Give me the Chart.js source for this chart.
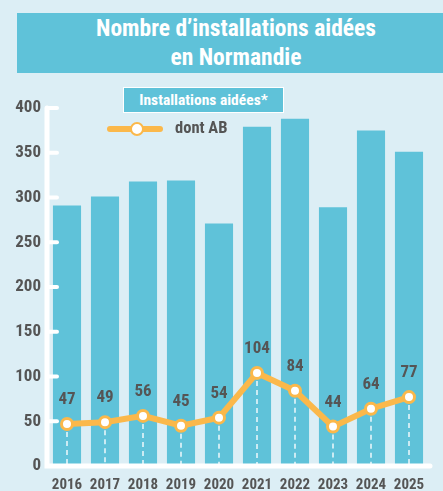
<!DOCTYPE html>
<html>
<head>
<meta charset="utf-8">
<script src="https://cdn.jsdelivr.net/npm/chart.js@4.4.1/dist/chart.umd.min.js"></script>
<style>
  html, body { margin:0; padding:0; background:#DCEEF5; }
  #wrap { position:relative; width:443px; height:491px; overflow:hidden; background:#DCEEF5; }
  #c { position:absolute; left:0; top:0; }
  .f { font-family:"Roboto Condensed","Roboto",sans-serif; font-stretch:condensed; font-weight:bold; white-space:nowrap; }
  #title { position:absolute; left:17px; top:13px; width:426px; height:60px; background:#5FC2D9;
    color:#fff; font-size:23.5px; line-height:29px; text-align:center; box-sizing:border-box; padding-top:1px; padding-left:12px; }
  #legbox { position:absolute; left:123px; top:87px; width:161px; height:26px; background:#5FC2D9;
    border:1px solid #fff; box-sizing:border-box; color:#fff; font-size:15.5px; line-height:24px; text-align:center; }
  #legline { position:absolute; left:107px; top:126px; width:56px; height:6px; background:#FBB84A; border-radius:3px; }
  #legdot { position:absolute; left:130px; top:122px; width:10px; height:10px; background:#fff; border:2.5px solid #FBB84A; border-radius:50%; }
  #legtxt { position:absolute; left:175px; top:118px; color:#555; font-size:16.5px; line-height:20px; }
</style>
</head>
<body>
<div id="wrap">
  <canvas id="c" width="443" height="491"></canvas>
  <div id="title" class="f">Nombre d’installations aidées<br>en Normandie</div>
  <div id="legbox" class="f">Installations aidées*</div>
  <div id="legline"></div>
  <div id="legdot"></div>
  <div id="legtxt" class="f">dont AB</div>
</div>
<script>
const years = ["2016","2017","2018","2019","2020","2021","2022","2023","2024","2025"];
const installationsAidees = [291, 301, 318, 319, 271, 379, 388, 289, 375, 351];
const dontAB = [47, 49, 56, 45, 54, 104, 84, 44, 64, 77];
const yTicks = [0, 50, 100, 150, 200, 250, 300, 350, 400];

const FONT = '"Roboto Condensed","Roboto",sans-serif';
const GREY = '#555';
const BLUE = '#5FC2D9';
const ORANGE = '#FBB84A';

const decor = {
  id: 'decor',
  afterDatasetDraw(chart, args) {
    const ctx = chart.ctx;
    const y = chart.scales.y;
    if (args.index === 0) {
      const meta = chart.getDatasetMeta(1);
      ctx.save();
      ctx.strokeStyle = 'rgba(255,255,255,0.9)';
      ctx.lineWidth = 1.5;
      ctx.setLineDash([5, 4]);
      meta.data.forEach(p => {
        ctx.beginPath();
        ctx.moveTo(p.x, p.y + 8);
        ctx.lineTo(p.x, y.getPixelForValue(0));
        ctx.stroke();
      });
      ctx.restore();
    }
  },
  afterDatasetsDraw(chart) {
    const ctx = chart.ctx;
    const y = chart.scales.y;
    const area = chart.chartArea;
    ctx.save();
    ctx.strokeStyle = '#fff';
    ctx.lineCap = 'round';
    ctx.lineWidth = 4;
    yTicks.forEach(v => {
      if (v === 0) return;
      const py = y.getPixelForValue(v);
      ctx.beginPath();
      ctx.moveTo(area.left - 1, py);
      ctx.lineTo(area.left + 9, py);
      ctx.stroke();
    });
    ctx.lineWidth = 5;
    ctx.beginPath();
    ctx.moveTo(area.left - 1, y.getPixelForValue(400));
    ctx.lineTo(area.left - 1, y.getPixelForValue(0));
    ctx.lineTo(area.right + 2, y.getPixelForValue(0));
    ctx.stroke();
    const meta = chart.getDatasetMeta(1);
    ctx.fillStyle = GREY;
    ctx.font = 'bold 17px ' + FONT;
    ctx.textAlign = 'center';
    ctx.textBaseline = 'middle';
    meta.data.forEach((p, i) => {
      ctx.fillText(String(dontAB[i]), p.x, p.y - 24);
    });
    ctx.restore();
  }
};

new Chart(document.getElementById('c'), {
  data: {
    labels: years,
    datasets: [
      { type: 'bar', data: installationsAidees, backgroundColor: BLUE, borderWidth: 0,
        barPercentage: 0.74, categoryPercentage: 1.0, order: 2 },
      { type: 'line', data: dontAB, borderColor: ORANGE, borderWidth: 6, tension: 0,
        pointRadius: 5.5, pointBorderWidth: 3, pointBackgroundColor: '#fff', pointBorderColor: ORANGE,
        order: 1 }
    ]
  },
  options: {
    responsive: false,
    animation: false,
    events: [],
    layout: { padding: { top: 108, right: 15, left: 0, bottom: 0 } },
    plugins: { legend: { display: false }, tooltip: { enabled: false }, title: { display: false } },
    scales: {
      x: {
        grid: { display: false, drawTicks: false },
        border: { display: false },
        ticks: { color: GREY, font: { family: FONT, weight: 'bold', size: 15 }, padding: 10, maxRotation: 0, autoSkip: false },
        afterFit(s) { s.height = 25; }
      },
      y: {
        min: 0, max: 400,
        grid: { display: false, drawTicks: false },
        border: { display: false },
        ticks: { stepSize: 50, color: GREY, font: { family: FONT, weight: 'bold', size: 17 }, padding: 7 },
        afterFit(s) { s.width = 48; }
      }
    }
  },
  plugins: [decor]
});
</script>
</body>
</html>
